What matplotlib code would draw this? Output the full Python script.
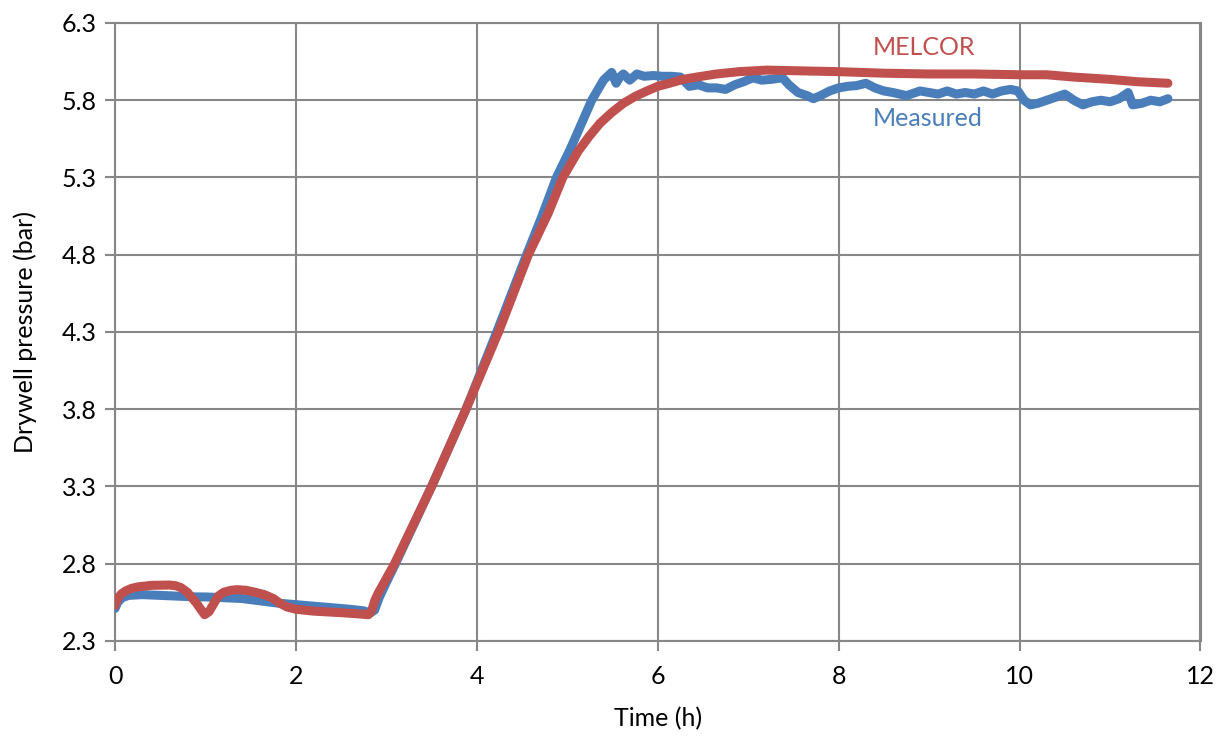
import matplotlib
matplotlib.use("Agg")
import matplotlib.pyplot as plt

plt.rcParams['font.family'] = ['Lato', 'DejaVu Sans']

# Measured drywell pressure (bar) vs time (h)
meas_t = [0.00, 0.03, 0.08, 0.15, 0.3, 0.5, 0.7, 0.9, 1.0, 1.2, 1.4, 1.6, 1.8, 2.0, 2.2,
          2.4, 2.6, 2.75, 2.82, 2.87, 2.92, 3.0, 3.1, 3.5, 3.88, 4.22, 4.55, 4.72, 4.88,
          5.03, 5.27, 5.40, 5.49, 5.54, 5.58, 5.62, 5.69, 5.77, 5.85, 5.95, 6.05, 6.15,
          6.25, 6.35, 6.45, 6.55, 6.65, 6.75, 6.85, 6.95, 7.05, 7.15, 7.25, 7.38, 7.45,
          7.55, 7.65, 7.72, 7.8, 7.9, 8.0, 8.1, 8.2, 8.3, 8.4, 8.5, 8.6, 8.75, 8.9, 9.0,
          9.1, 9.2, 9.3, 9.4, 9.5, 9.6, 9.7, 9.8, 9.9, 9.98, 10.05, 10.12, 10.2, 10.3,
          10.4, 10.5, 10.6, 10.7, 10.8, 10.9, 11.0, 11.1, 11.2, 11.25, 11.35, 11.45,
          11.55, 11.64]
meas_p = [2.51, 2.55, 2.58, 2.595, 2.60, 2.595, 2.59, 2.585, 2.585, 2.58, 2.575, 2.56,
          2.545, 2.535, 2.525, 2.515, 2.505, 2.495, 2.48, 2.50, 2.58, 2.68, 2.80, 3.30,
          3.80, 4.30, 4.80, 5.05, 5.30, 5.48, 5.80, 5.93, 5.98, 5.91, 5.95, 5.97, 5.93,
          5.97, 5.955, 5.96, 5.955, 5.955, 5.95, 5.89, 5.90, 5.88, 5.88, 5.87, 5.90,
          5.92, 5.945, 5.93, 5.935, 5.945, 5.90, 5.85, 5.83, 5.81, 5.83, 5.86, 5.88,
          5.89, 5.895, 5.91, 5.88, 5.86, 5.85, 5.83, 5.86, 5.85, 5.84, 5.86, 5.84,
          5.85, 5.84, 5.86, 5.84, 5.86, 5.87, 5.86, 5.80, 5.77, 5.78, 5.80, 5.82, 5.84,
          5.80, 5.77, 5.79, 5.80, 5.79, 5.81, 5.85, 5.77, 5.78, 5.80, 5.79, 5.81]

# MELCOR simulation
mel_t = [0.00, 0.03, 0.07, 0.12, 0.18, 0.25, 0.4, 0.6, 0.67, 0.73, 0.8, 0.9, 0.99, 1.04,
         1.09, 1.14, 1.2, 1.28, 1.35, 1.45, 1.55, 1.65, 1.75, 1.82, 1.9, 2.0, 2.2, 2.5,
         2.7, 2.8, 2.84, 2.87, 2.91, 3.09, 3.5, 3.88, 4.24, 4.57, 4.79, 4.95, 5.03, 5.12,
         5.24, 5.36, 5.49, 5.62, 5.75, 5.88, 6.0, 6.13, 6.28, 6.43, 6.65, 6.9, 7.2, 7.6,
         8.0, 8.5, 9.0, 9.5, 10.0, 10.3, 10.6, 11.0, 11.3, 11.64]
mel_p = [2.53, 2.575, 2.605, 2.625, 2.64, 2.65, 2.66, 2.662, 2.658, 2.645, 2.615, 2.545,
         2.47, 2.49, 2.54, 2.59, 2.615, 2.628, 2.632, 2.628, 2.615, 2.60, 2.575, 2.545,
         2.52, 2.505, 2.493, 2.483, 2.475, 2.47, 2.50, 2.56, 2.61, 2.80, 3.30, 3.80,
         4.30, 4.80, 5.07, 5.30, 5.38, 5.47, 5.565, 5.65, 5.72, 5.78, 5.825, 5.86, 5.89,
         5.91, 5.935, 5.95, 5.97, 5.985, 5.995, 5.99, 5.985, 5.975, 5.97, 5.97, 5.965,
         5.965, 5.95, 5.935, 5.92, 5.91]

x_ticks = [0, 2, 4, 6, 8, 10, 12]
y_ticks = [2.3, 2.8, 3.3, 3.8, 4.3, 4.8, 5.3, 5.8, 6.3]

RED = '#C0504D'
BLUE = '#4A7EBB'
GRID = '#878787'

fig = plt.figure(figsize=(12.25, 7.37), dpi=100)
ax = fig.add_axes([0.0939, 0.1303, 0.8861, 0.8385])

ax.plot(meas_t, meas_p, color=BLUE, lw=6.5, solid_capstyle='round',
        solid_joinstyle='round', zorder=3)
ax.plot(mel_t, mel_p, color=RED, lw=6.5, solid_capstyle='round',
        solid_joinstyle='round', zorder=4)

ax.set_xlim(0, 12)
ax.set_ylim(2.3, 6.3)
ax.set_xticks(x_ticks)
ax.set_yticks(y_ticks)
ax.set_xticklabels([str(v) for v in x_ticks])
ax.set_yticklabels([f"{v:.1f}" for v in y_ticks])
ax.grid(True, color=GRID, lw=1.5)
ax.set_axisbelow(True)
for s in ax.spines.values():
    s.set_color(GRID)
    s.set_linewidth(1.5)
ax.tick_params(axis='both', direction='out', length=7, width=1.5, color=GRID,
               labelsize=18, labelcolor='black')
ax.tick_params(axis='x', pad=10)
ax.tick_params(axis='y', pad=6)

ax.set_xlabel('Time (h)', fontsize=18, labelpad=14)
ax.set_ylabel('Drywell pressure (bar)', fontsize=18, labelpad=18)

ax.text(8.94, 6.14, 'MELCOR', color=RED, fontsize=18, ha='center', va='center')
ax.text(8.98, 5.68, 'Measured', color=BLUE, fontsize=18, ha='center', va='center')

fig.savefig('out.png', dpi=100)
